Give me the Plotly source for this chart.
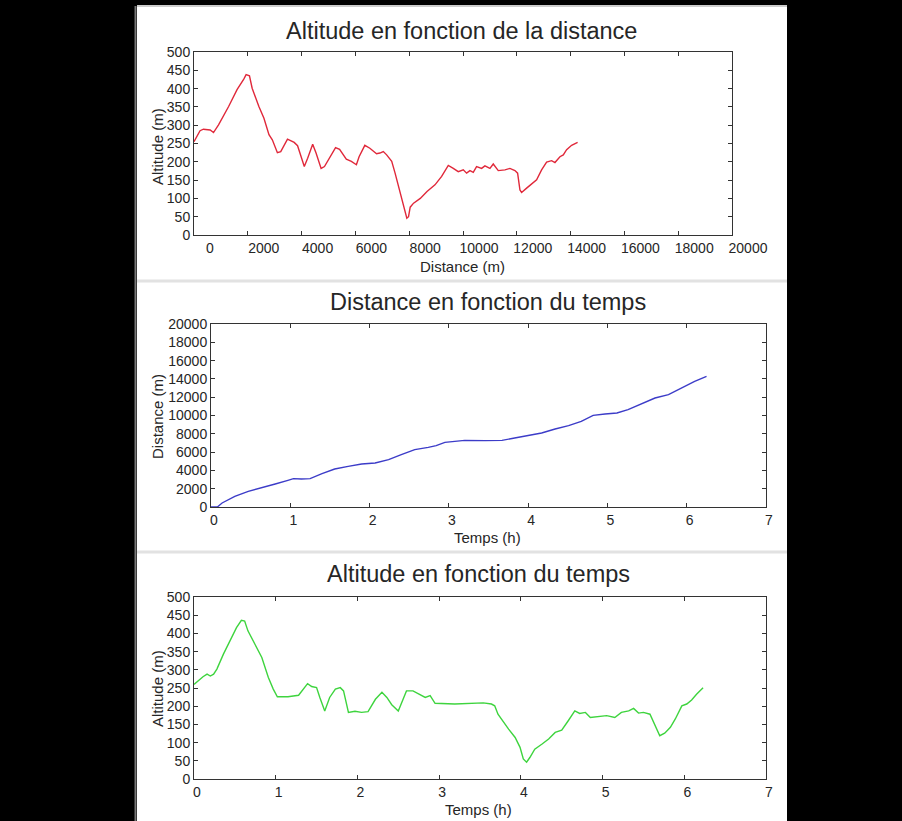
import plotly.graph_objects as go

W, H = 902, 821

# ---------------- data ----------------
dist_alt_d = [0, 225, 350, 600, 725, 912, 1287, 1600, 1850, 1937, 2062, 2162, 2412, 2600, 2787, 2912,
              3100, 3225, 3475, 3537, 3725, 3850, 4100, 4225, 4412, 4537, 4725, 4850, 5100, 5262, 5412,
              5662, 5850, 6037, 6137, 6350, 6537, 6787, 6912, 7037, 7162, 7350, 7475, 7662, 7787, 7912,
              7975, 8037, 8162, 8412, 8662, 8958, 9206, 9453, 9639, 9824, 10010, 10134, 10258, 10381,
              10505, 10691, 10815, 11001, 11125, 11311, 11559, 11745, 11931, 12030, 12117, 12179, 12365,
              12551, 12737, 12922, 13108, 13294, 13418, 13604, 13728, 13852, 14038, 14261]
dist_alt_a = [255, 285, 289, 287, 280, 301, 351, 397, 426, 438, 435, 401, 351, 319, 274, 260,
              225, 228, 262, 260, 253, 244, 187, 210, 248, 224, 182, 187, 219, 239, 234,
              207, 201, 192, 214, 245, 237, 222, 224, 228, 219, 201, 169, 114, 82, 46,
              50, 76, 87, 100, 119, 137, 160, 190, 182, 173, 178, 169, 176, 171,
              187, 182, 189, 182, 194, 176, 178, 182, 176, 169, 123, 116, 128,
              139, 151, 178, 199, 203, 198, 214, 219, 233, 245, 253]

time_dist_t = [0, 0.08, 0.14, 0.30, 0.47, 0.64, 0.81, 0.97, 1.04, 1.14, 1.25, 1.40, 1.56, 1.73, 1.90,
               2.07, 2.24, 2.40, 2.57, 2.74, 2.84, 2.95, 3.08, 3.20, 3.46, 3.67, 3.83, 4.00, 4.17, 4.34,
               4.51, 4.67, 4.82, 4.97, 5.12, 5.26, 5.43, 5.60, 5.77, 5.94, 6.10, 6.25]
time_dist_d = [0, 0, 437, 1166, 1712, 2077, 2514, 2914, 3097, 3060, 3097, 3643, 4153, 4444, 4700,
               4809, 5173, 5720, 6266, 6521, 6700, 7067, 7177, 7286, 7250, 7286, 7541, 7796, 8087, 8525,
               8889, 9362, 10018, 10164, 10273, 10638, 11293, 11912, 12277, 13005, 13734, 14280]

time_alt_t = [0, 0.05, 0.11, 0.16, 0.20, 0.24, 0.28, 0.36, 0.44, 0.52, 0.58, 0.62, 0.66, 0.75, 0.83,
              0.91, 0.97, 1.02, 1.15, 1.28, 1.34, 1.39, 1.44, 1.50, 1.54, 1.60, 1.66, 1.73, 1.79, 1.83,
              1.89, 1.97, 2.05, 2.13, 2.22, 2.30, 2.36, 2.42, 2.50, 2.54, 2.60, 2.68, 2.77, 2.83, 2.89,
              2.95, 3.19, 3.44, 3.54, 3.64, 3.68, 3.72, 3.79, 3.85, 3.93, 3.99, 4.03, 4.07, 4.11, 4.17,
              4.26, 4.34, 4.42, 4.50, 4.58, 4.66, 4.72, 4.79, 4.85, 4.95, 5.05, 5.15, 5.23, 5.32, 5.38,
              5.44, 5.50, 5.58, 5.64, 5.70, 5.76, 5.83, 5.89, 5.97, 6.03, 6.09, 6.15, 6.23]
time_alt_a = [260, 270, 281, 288, 283, 288, 302, 343, 379, 416, 436, 434, 407, 370, 334,
              279, 247, 226, 226, 230, 247, 262, 254, 251, 224, 187, 224, 247, 251, 242,
              183, 186, 183, 185, 219, 238, 224, 204, 187, 210, 242, 242, 231, 224, 229,
              208, 206, 207, 209, 206, 201, 178, 155, 137, 114, 87, 55, 46, 59, 82,
              96, 110, 128, 134, 160, 187, 180, 183, 169, 171, 174, 169, 183, 187, 194,
              181, 183, 178, 146, 119, 126, 142, 165, 201, 206, 217, 233, 251]

titles = ["Altitude en fonction de la distance",
          "Distance en fonction du temps",
          "Altitude en fonction du temps"]
xlabels = ["Distance (m)", "Temps (h)", "Temps (h)"]
ylabels = ["Altitude (m)", "Distance (m)", "Altitude (m)"]

alt_ticks = list(range(0, 501, 50))
dist_ticks = list(range(0, 20001, 2000))
time_ticks = list(range(0, 8))

# ---------------- layout helpers ----------------
def px_x(p):
    return p / W

def px_y(p):
    return 1 - p / H

FONT = "Liberation Sans, Arial, sans-serif"
TXT = "#262626"
AX = "#333333"

fig = go.Figure()
fig.add_trace(go.Scatter(x=dist_alt_d, y=dist_alt_a, mode="lines",
                         line=dict(color="#e0283a", width=1.4), xaxis="x", yaxis="y"))
fig.add_trace(go.Scatter(x=time_dist_t, y=time_dist_d, mode="lines",
                         line=dict(color="#3c3cc8", width=1.4), xaxis="x2", yaxis="y2"))
fig.add_trace(go.Scatter(x=time_alt_t, y=time_alt_a, mode="lines",
                         line=dict(color="#3ed43e", width=1.4), xaxis="x3", yaxis="y3"))

boxes = [  # left, right, top, bottom in pixels
    (194, 732, 52, 235),
    (211, 766, 324, 507),
    (194, 766, 597, 779),
]

common_ax = dict(showline=True, linecolor=AX, linewidth=1, mirror="ticks",
                 ticks="inside", ticklen=4, tickcolor=AX, showgrid=False, zeroline=False,
                 tickformat="d", automargin=False,
                 tickfont=dict(family=FONT, size=14, color=TXT), fixedrange=True)

xranges = [[0, 20000], [0, 7], [0, 7]]
yranges = [[0, 500], [0, 20000], [0, 500]]
xtickvals = [dist_ticks, time_ticks, time_ticks]
ytickvals = [alt_ticks, dist_ticks, alt_ticks]
xshift = [16, 3, 3]

for i, (l, r, t, b) in enumerate(boxes):
    sfx = "" if i == 0 else str(i + 1)
    fig.layout["xaxis" + sfx] = dict(common_ax, domain=[px_x(l), px_x(r)], range=xranges[i],
                                     tickvals=xtickvals[i], anchor="y" + sfx,
                                     ticklabelshift=xshift[i], ticklabelstandoff=0)
    fig.layout["yaxis" + sfx] = dict(common_ax, domain=[px_y(b), px_y(t)], range=yranges[i],
                                     tickvals=ytickvals[i], anchor="x" + sfx,
                                     ticklabelstandoff=0)

annotations = []
title_pos = [(461, 31), (488, 302), (478, 574)]
xlab_pos = [(462, 266), (487, 537), (479, 809)]
ylab_pos = [(157, 147), (157, 417), (157, 689)]
for i in range(3):
    annotations.append(dict(text=titles[i], x=px_x(title_pos[i][0]), y=px_y(title_pos[i][1]),
                            xref="paper", yref="paper", showarrow=False, xanchor="center", yanchor="middle",
                            font=dict(family=FONT, size=23.5, color=TXT)))
    annotations.append(dict(text=xlabels[i], x=px_x(xlab_pos[i][0]), y=px_y(xlab_pos[i][1]),
                            xref="paper", yref="paper", showarrow=False, xanchor="center", yanchor="middle",
                            font=dict(family=FONT, size=15, color=TXT)))
    annotations.append(dict(text=ylabels[i], x=px_x(ylab_pos[i][0]), y=px_y(ylab_pos[i][1]),
                            xref="paper", yref="paper", showarrow=False, xanchor="center", yanchor="middle",
                            textangle=-90, font=dict(family=FONT, size=15, color=TXT)))

shapes = [
    dict(type="rect", xref="paper", yref="paper", x0=px_x(137), x1=px_x(787), y0=0, y1=px_y(6),
         fillcolor="white", line=dict(width=0), layer="below"),
    dict(type="line", xref="paper", yref="paper", x0=px_x(135.5), x1=px_x(135.5), y0=0, y1=px_y(6),
         line=dict(color="#777777", width=2)),
    dict(type="line", xref="paper", yref="paper", x0=px_x(137), x1=px_x(787), y0=px_y(6), y1=px_y(6),
         line=dict(color="#cccccc", width=2)),
    dict(type="line", xref="paper", yref="paper", x0=px_x(137), x1=px_x(787), y0=px_y(281), y1=px_y(281),
         line=dict(color="#e2e2e2", width=3)),
    dict(type="line", xref="paper", yref="paper", x0=px_x(137), x1=px_x(787), y0=px_y(552), y1=px_y(552),
         line=dict(color="#e2e2e2", width=3)),
]

fig.update_layout(width=W, height=H, margin=dict(l=0, r=0, t=0, b=0, autoexpand=False),
                  paper_bgcolor="black", plot_bgcolor="white", showlegend=False,
                  annotations=annotations, shapes=shapes)

fig.write_html("out.html", config={"displayModeBar": False},
               post_script="document.body.style.margin='0';document.body.style.overflow='hidden';"
                           "document.documentElement.style.overflow='hidden';")
